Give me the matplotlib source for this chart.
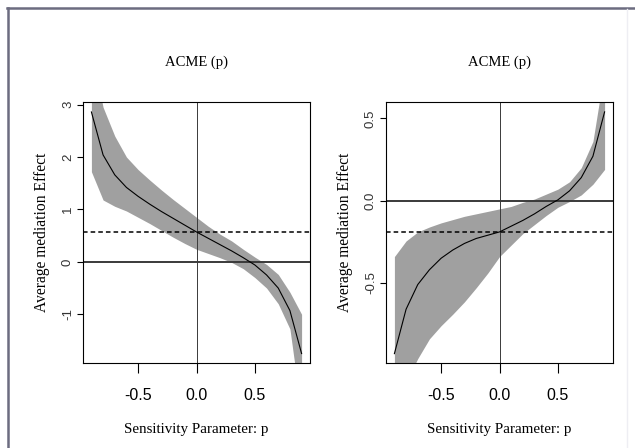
import numpy as np
import matplotlib
matplotlib.use("Agg")
import matplotlib.pyplot as plt
from matplotlib.lines import Line2D

# sensitivity parameter (rho) grid, step 0.1
rho = [-0.9, -0.8, -0.7, -0.6, -0.5, -0.4, -0.3, -0.2, -0.1, 0.0,
       0.1, 0.2, 0.3, 0.4, 0.5, 0.6, 0.7, 0.8, 0.9]

# left panel: ACME(rho) with confidence band
acme1 = [2.86, 2.04, 1.66, 1.42, 1.25, 1.10, 0.96, 0.83, 0.70, 0.57,
         0.45, 0.33, 0.21, 0.08, -0.06, -0.25, -0.50, -0.93, -1.75]
upper1 = [4.00, 2.95, 2.40, 2.00, 1.76, 1.56, 1.37, 1.19, 1.02, 0.85,
          0.68, 0.53, 0.40, 0.24, 0.09, -0.05, -0.24, -0.58, -1.00]
lower1 = [1.72, 1.18, 1.06, 0.97, 0.85, 0.73, 0.60, 0.47, 0.35, 0.24,
          0.16, 0.08, -0.01, -0.13, -0.30, -0.50, -0.80, -1.28, -2.90]
est1 = 0.57

# right panel
acme2 = [-0.93, -0.66, -0.51, -0.42, -0.35, -0.30, -0.26, -0.23, -0.21, -0.19,
         -0.155, -0.12, -0.08, -0.035, 0.005, 0.06, 0.14, 0.27, 0.54]
upper2 = [-0.34, -0.245, -0.19, -0.16, -0.135, -0.115, -0.095, -0.08, -0.065, -0.05,
          -0.035, -0.01, 0.01, 0.04, 0.07, 0.115, 0.20, 0.36, 0.80]
lower2 = [-1.50, -1.10, -0.96, -0.84, -0.76, -0.69, -0.615, -0.53, -0.44, -0.34,
          -0.27, -0.20, -0.145, -0.09, -0.04, -0.005, 0.035, 0.10, 0.19]
est2 = -0.19

W, H = 635, 448
fig = plt.figure(figsize=(W / 100, H / 100), dpi=100)
fig.patch.set_facecolor("white")

serif = ["Liberation Serif", "DejaVu Serif"]


def panel(left_px, x, m, lo, hi, est, ylim, yticks, ylabels):
    ax = fig.add_axes([left_px / W, (H - 363) / H, 227 / W, 261 / H])
    ax.fill_between(x, lo, hi, color="#a0a0a0", linewidth=0, zorder=1)
    ax.plot(x, m, color="black", linewidth=0.8, zorder=3)
    ax.axhline(0, color="#3a3a3a", linewidth=1.4, zorder=2)
    ax.axvline(0, color="#3a3a3a", linewidth=0.7, zorder=2)
    ax.axhline(est, color="black", linewidth=1.1, linestyle=(0, (3, 2)), zorder=4)
    ax.set_xlim(-0.972, 0.972)
    ax.set_ylim(*ylim)
    ax.set_xticks([-0.5, 0.0, 0.5])
    ax.set_xticklabels(["-0.5", "0.0", "0.5"], family="Liberation Sans", fontsize=11.5)
    ax.set_yticks(yticks)
    ax.set_yticklabels(ylabels, rotation=90, va="center", family="Liberation Sans",
                       fontsize=9.5, color="#333333")
    ax.tick_params(axis="x", length=7, width=0.8, pad=11)
    ax.tick_params(axis="y", length=4.5, width=0.8, pad=2)
    for s in ax.spines.values():
        s.set_linewidth(0.8)
    cx = (left_px + 113.5) / W
    fig.text(cx, 1 - 62 / H, "ACME (p)", ha="center", va="center",
             family=serif, fontsize=10.5)
    fig.text(cx, 1 - 429 / H, "Sensitivity Parameter: p", ha="center", va="center",
             family=serif, fontsize=10.8)
    fig.text((left_px - 41) / W, 1 - 232 / H, "Average mediation Effect", ha="center",
             va="center", rotation=90, family=serif, fontsize=11.2)
    return ax


panel(83, rho, acme1, lower1, upper1, est1, (-1.93, 3.05),
      [-1, 0, 1, 2, 3], ["-1", "0", "1", "2", "3"])
panel(386, rho, acme2, lower2, upper2, est2, (-0.987, 0.60),
      [-0.5, 0.0, 0.5], ["-0.5", "0.0", "0.5"])

# outer frame of the figure (top and left edges)
fc = "#6c6c80"
fig.add_artist(Line2D([7 / W, 1], [1 - 8.5 / H, 1 - 8.5 / H], color=fc, linewidth=1.8,
                      transform=fig.transFigure))
fig.add_artist(Line2D([7.5 / W, 7.5 / W], [0, 1 - 8 / H], color=fc, linewidth=1.8,
                      transform=fig.transFigure))
fig.add_artist(Line2D([627 / W, 627 / W], [0, 1 - 9 / H], color="#eeeef3", linewidth=1.0,
                      transform=fig.transFigure))

fig.savefig("out.png", dpi=100)
